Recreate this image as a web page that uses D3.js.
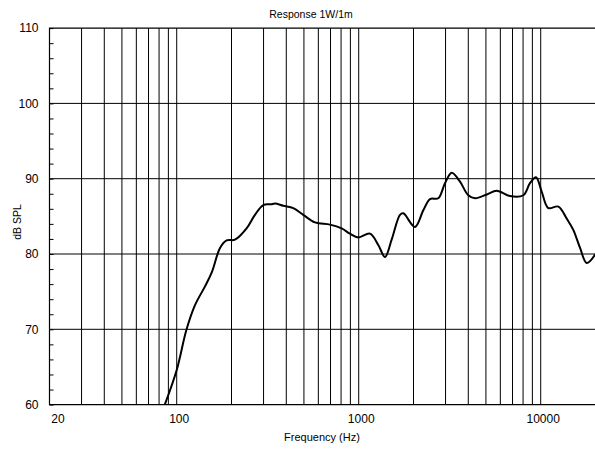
<!DOCTYPE html>
<html>
<head>
<meta charset="utf-8">
<script src="https://cdn.jsdelivr.net/npm/d3@7"></script>
<style>
  body { margin: 0; background: #fff; }
  text { font-family: "Liberation Sans", Arial, sans-serif; fill: #000; }
</style>
</head>
<body>
<svg id="chart" width="595" height="450"></svg>
<script>
// frequency response
var freq = [86, 100, 113, 126, 143, 156, 173, 188, 209, 242, 269, 299, 330, 347, 385, 437, 496, 575,
            695, 806, 895, 995, 1153, 1281, 1394, 1517, 1686, 1758, 2037, 2264, 2465, 2737, 2978, 3244,
            3603, 4000, 4357, 5051, 5730, 6780, 8020, 8730, 9420, 10120, 11000, 12500, 13900, 15100,
            16450, 17900, 20000];
var spl = [60, 64.6, 69.9, 73.2, 75.7, 77.6, 80.8, 81.8, 81.9, 83.4, 85.2, 86.5, 86.6, 86.7, 86.4, 86.1, 85.2, 84.2,
           83.9, 83.4, 82.7, 82.2, 82.7, 81.2, 79.6, 81.9, 85.2, 85.4, 83.6, 85.8, 87.3, 87.4, 89.4, 90.8,
           89.6, 87.8, 87.4, 87.9, 88.4, 87.7, 87.8, 89.4, 90.2, 88.3, 86.1, 86.3, 84.7, 83.2,
           80.8, 78.8, 80.0];

var xGrid = [30, 40, 50, 60, 70, 80, 90, 100, 200, 300, 400, 500, 600, 700, 800, 900,
             1000, 2000, 3000, 4000, 5000, 6000, 7000, 8000, 9000, 10000];
var xLabels = [20, 100, 1000, 10000];
var yGrid = [70, 80, 90, 100];
var yTicks = d3.range(60, 111, 2);
var yLabels = [60, 70, 80, 90, 100, 110];

var svg = d3.select("#chart");
var pLeft = 49.5, pRight = 595.5, pTop = 28.1, pBottom = 404.6;

var x = d3.scaleLog().domain([20, 20000]).range([pLeft, pRight]);
var y = d3.scaleLinear().domain([60, 110]).range([pBottom, pTop]);

svg.append("clipPath").attr("id", "clip")
   .append("rect").attr("x", pLeft).attr("y", pTop)
   .attr("width", pRight - pLeft).attr("height", pBottom - pTop);

// grid
svg.append("g").selectAll("line").data(xGrid).enter().append("line")
   .attr("x1", function(d){ return x(d); }).attr("x2", function(d){ return x(d); })
   .attr("y1", pTop).attr("y2", pBottom)
   .attr("stroke", "#000").attr("stroke-width", 1);
svg.append("g").selectAll("line").data(yGrid).enter().append("line")
   .attr("x1", pLeft).attr("x2", pRight)
   .attr("y1", function(d){ return y(d); }).attr("y2", function(d){ return y(d); })
   .attr("stroke", "#000").attr("stroke-width", 1);

// frame
svg.append("path")
   .attr("d", "M" + pRight + "," + pTop + "H" + pLeft + "V" + pBottom + "H" + pRight)
   .attr("fill", "none").attr("stroke", "#000").attr("stroke-width", 1.2);

// left axis with small inner ticks
var yAxis = d3.axisLeft(y).tickValues(yTicks).tickSize(-4).tickPadding(11)
   .tickFormat(function(d){ return yLabels.indexOf(d) >= 0 ? d : ""; });
var gy = svg.append("g").attr("transform", "translate(" + pLeft + ",0)").call(yAxis);
gy.select(".domain").remove();
gy.selectAll("line").attr("stroke", "#000");
gy.selectAll("text").attr("font-size", 12).attr("font-family", null);

// bottom labels
svg.append("g").selectAll("text").data(xLabels).enter().append("text")
   .attr("x", function(d){ return d == 20 ? x(d) + 8.5 : x(d) + 2.5; })
   .attr("y", 423)
   .attr("text-anchor", "middle").attr("font-size", 12)
   .text(function(d){ return d; });

// curve
var line = d3.line()
   .x(function(d){ return x(d[0]); })
   .y(function(d){ return y(d[1]); })
   .curve(d3.curveCatmullRom.alpha(0.5));
svg.append("path")
   .datum(d3.zip(freq, spl))
   .attr("clip-path", "url(#clip)")
   .attr("d", line)
   .attr("fill", "none").attr("stroke", "#000").attr("stroke-width", 2);

// titles
svg.append("text").attr("x", 311).attr("y", 18).attr("text-anchor", "middle")
   .attr("font-size", 10.5).text("Response 1W/1m");
svg.append("text").attr("x", 322).attr("y", 441).attr("text-anchor", "middle")
   .attr("font-size", 11).text("Frequency (Hz)");
svg.append("text").attr("transform", "translate(21,222) rotate(-90)")
   .attr("text-anchor", "middle").attr("font-size", 10.5).text("dB SPL");
</script>
</body>
</html>
